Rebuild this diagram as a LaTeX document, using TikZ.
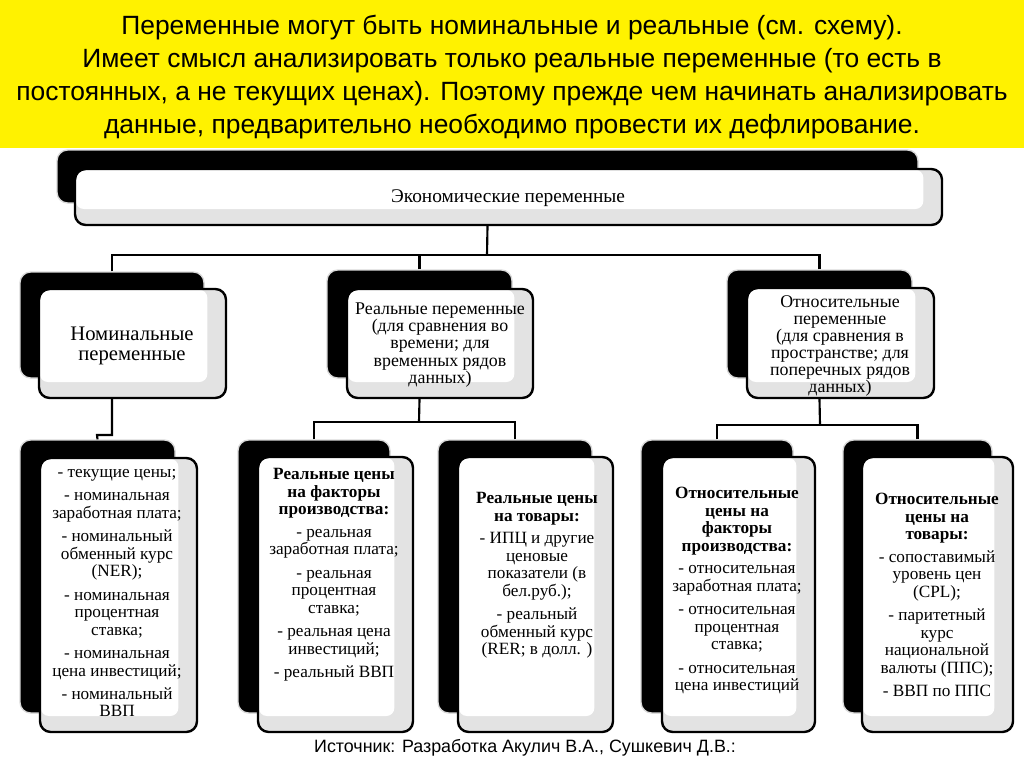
\documentclass[tikz,border=0pt]{standalone}
\usepackage{fontspec}
\setmainfont{Liberation Serif}
\newfontfamily\sansf{Liberation Sans}
\tikzset{
  backbox/.style={fill=black, draw=gray!30, line width=1pt, rounded corners=8pt, inner sep=0pt},
  frontbox/.style={fill=gray!22, draw=black, line width=1.8pt, rounded corners=8pt, inner sep=0pt,
    path picture={\fill[white, rounded corners=6pt]
      ([shift={(0.6pt,-0.6pt)}]path picture bounding box.north west) rectangle
      ([shift={(-14pt,12pt)}]path picture bounding box.south east);}},
  conn/.style={draw=black, line width=1.6pt},
  btxt/.style={font=\fontsize{12.9}{13.1}\selectfont, align=center, inner sep=0pt},
  mtxt/.style={font=\fontsize{13.4}{12.8}\selectfont, align=center, inner sep=0pt},
}
\newcommand\mkbox[6]{\node[#6, minimum width={(#4-#2)*0.75pt}, minimum height={(#5-#3)*0.75pt}] (#1) at ({(#2+#4)/2},{(#3+#5)/2}) {};}
\begin{document}
\begin{tikzpicture}[x=0.75pt, y=-0.75pt]
\useasboundingbox (0,0) rectangle (1024,767);
\fill[white] (0,0) rectangle (1024,767);
% banner
\fill[yellow] (0,0) rectangle (1024,148);
\node[font=\sansf\fontsize{19.8}{24.75}\selectfont, align=center, inner sep=0pt] (title) at (512,77)
 {Переменные могут быть номинальные и реальные (см. схему).\\
  Имеет смысл анализировать только реальные переменные (то есть в\\
  постоянных, а не текущих ценах). Поэтому прежде чем начинать анализировать\\
  данные, предварительно необходимо провести их дефлирование.};
% boxes
\mkbox{ecob}{57}{150}{918}{203}{backbox}
\mkbox{eco}{75}{169}{942}{225}{frontbox}
\mkbox{nomb}{20}{272}{204}{378}{backbox}
\mkbox{nom}{39}{289}{226}{398}{frontbox}
\mkbox{realb}{327}{270}{512}{378}{backbox}
\mkbox{real}{347}{289}{533}{398}{frontbox}
\mkbox{relb}{727}{270}{912}{378}{backbox}
\mkbox{rel}{747}{288}{934}{398}{frontbox}
\mkbox{b1b}{20}{440}{175}{713}{backbox}
\mkbox{b1}{40}{458}{197}{732}{frontbox}
\mkbox{b2b}{238}{440}{390}{713}{backbox}
\mkbox{b2}{258}{457}{413}{732}{frontbox}
\mkbox{b3b}{438}{440}{592}{713}{backbox}
\mkbox{b3}{458}{457}{613}{732}{frontbox}
\mkbox{b4b}{641}{440}{793}{713}{backbox}
\mkbox{b4}{662}{457}{815}{732}{frontbox}
\mkbox{b5b}{843}{440}{992}{713}{backbox}
\mkbox{b5}{862}{457}{1013}{732}{frontbox}
% connectors
\coordinate (bus0) at (487,255);
\draw[conn] (ecob |- eco.south) -- (bus0);
\draw[conn] (nomb.north) |- (bus0);
\draw[conn] (realb.north) -- (realb.north |- bus0);
\draw[conn] (relb.north) |- (bus0);
\coordinate (j1) at (97,435);
\draw[conn] (nomb |- nom.south) |- (j1) -- (b1b.north);
\coordinate (j2) at (419,422);
\draw[conn] (realb |- real.south) -- (j2);
\draw[conn] (b2b.north) |- (j2);
\draw[conn] (b3b.north) |- (j2);
\coordinate (j3) at (820,425);
\draw[conn] (relb |- rel.south) -- (j3);
\draw[conn] (b4b.north) |- (j3);
\draw[conn] (b5b.north) |- (j3);
% texts
\node[font=\fontsize{14.5}{14}\selectfont, inner sep=0pt] (ecot) at (508,198) {Экономические переменные};
\node[font=\fontsize{15.5}{15}\selectfont, align=center, inner sep=0pt] (nomt) at (132,346) {Номинальные\\переменные};
\node[mtxt] (realt) at (440,345) {Реальные переменные\\(для сравнения во\\времени; для\\временных рядов\\данных)};
\node[mtxt] (relt) at (840,346) {Относительные\\переменные\\(для сравнения в\\пространстве; для\\поперечных рядов\\данных)};
\node[btxt, anchor=north] (t1) at (117,469) {- текущие цены;\\[4.5pt]
 - номинальная\\заработная плата;\\[4.5pt]
 - номинальный\\обменный курс\\(NER);\\[4.5pt]
 - номинальная\\процентная\\ставка;\\[4.5pt]
 - номинальная\\цена инвестиций;\\[4.5pt]
 - номинальный\\ВВП};
\node[btxt, anchor=north] (t2) at (334,468) {\textbf{Реальные цены}\\\textbf{на факторы}\\\textbf{производства:}\\[4pt]
 - реальная\\заработная плата;\\[4.5pt]
 - реальная\\процентная\\ставка;\\[4.5pt]
 - реальная цена\\инвестиций;\\[4.5pt]
 - реальный ВВП};
\node[btxt, anchor=north] (t3) at (537,492) {\textbf{Реальные цены}\\\textbf{на товары:}\\[4pt]
 - ИПЦ и другие\\ценовые\\показатели (в\\бел.руб.);\\[4.5pt]
 - реальный\\обменный курс\\(RER; в долл. )};
\node[btxt, anchor=north] (t4) at (737,487) {\textbf{Относительные}\\\textbf{цены на}\\\textbf{факторы}\\\textbf{производства:}\\[4pt]
 - относительная\\заработная плата;\\[4.5pt]
 - относительная\\процентная\\ставка;\\[4.5pt]
 - относительная\\цена инвестиций};
\node[btxt, anchor=north] (t5) at (937,493) {\textbf{Относительные}\\\textbf{цены на}\\\textbf{товары:}\\[4pt]
 - сопоставимый\\уровень цен\\(CPL);\\[4.5pt]
 - паритетный\\курс\\национальной\\валюты (ППС);\\[4.5pt]
 - ВВП по ППС};
\node[font=\sansf\fontsize{13.4}{15}\selectfont, inner sep=0pt] (src) at (525,748) {Источник: Разработка Акулич В.А., Сушкевич Д.В.:};
\end{tikzpicture}
\end{document}
